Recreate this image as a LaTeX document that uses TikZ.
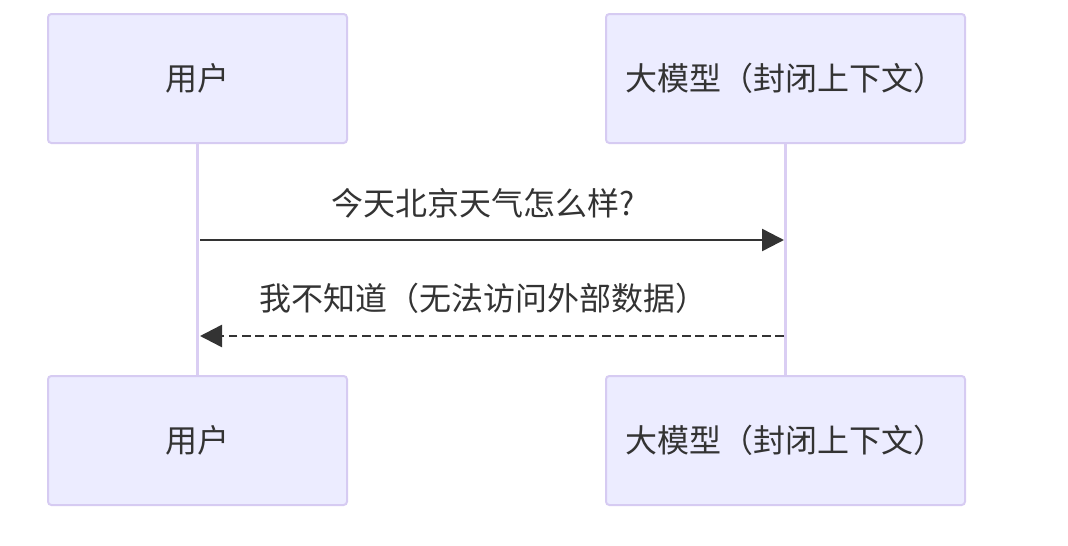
\documentclass[tikz,border=0pt]{standalone}
\usepackage{fontspec}
\setmainfont{Noto Sans CJK SC}
\usetikzlibrary{arrows.meta, positioning}

\definecolor{actorfill}{HTML}{ECECFF}
\definecolor{actorline}{HTML}{D6CBF2}
\definecolor{lifeline}{HTML}{DACEF3}
\definecolor{msgcolor}{HTML}{333333}

\begin{document}
\begin{tikzpicture}[
        x=0.75pt, y=-0.75pt,
        actor/.style={
            draw=actorline,
            fill=actorfill,
            line width=1.5pt,
            rounded corners=2.5pt,
            minimum height=96.75pt,
            text=msgcolor,
            font=\fontsize{24}{28}\selectfont,
            align=center
        },
        life/.style={draw=lifeline, line width=2.2pt},
        msg/.style={draw=msgcolor, line width=1.9pt,
            -{Triangle[length=16.5pt, width=16.5pt]}},
        reply/.style={msg, dash pattern=on 6.5pt off 3.5pt},
        msglabel/.style={text=msgcolor, font=\fontsize{24}{28}\selectfont}
    ]
        \useasboundingbox (0,0) rectangle (1068,546);

        % 参与者(上排)
        \node[actor, minimum width=224.25pt] (user1) at (197.5,78.5) {用户};
        \node[actor, minimum width=269.25pt] (llm1) at (785.5,78.5) {大模型（封闭上下文）};

        % 参与者(下排)
        \node[actor, minimum width=224.25pt, below=173.25pt of user1] (user2) {用户};
        \node[actor, minimum width=269.25pt, below=173.25pt of llm1] (llm2) {大模型（封闭上下文）};

        % 生命线
        \draw[life] (user1.south) -- (user2.north);
        \draw[life] (llm1.south) -- (llm2.north);

        % 消息
        \coordinate (q1) at (200,240);
        \coordinate (q2) at (784,240);
        \coordinate (a1) at (784,336);
        \coordinate (a2) at (200,336);
        \draw[msg] (q1) -- (q2);
        \node[msglabel] (qtext) at (483,203) {今天北京天气怎么样?};
        \draw[reply] (a1) -- (a2);
        \node[msglabel] (atext) at (483,298) {我不知道（无法访问外部数据）};
    \end{tikzpicture}
\end{document}
